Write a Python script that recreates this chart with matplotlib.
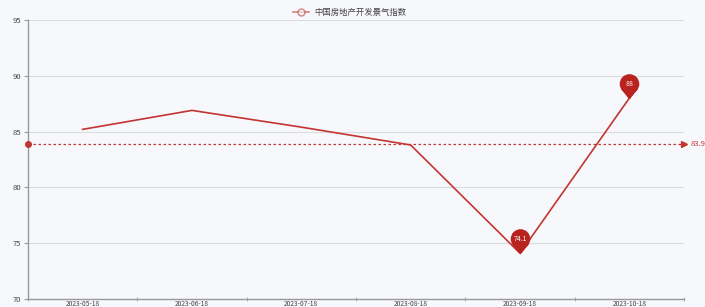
import matplotlib
matplotlib.use("Agg")
import matplotlib.pyplot as plt
import numpy as np
from matplotlib.path import Path

plt.rcParams['font.family'] = ['Noto Sans CJK SC', 'DejaVu Sans']

dates = ["2023-05-18", "2023-06-18", "2023-07-18", "2023-08-18", "2023-09-18", "2023-10-18"]
values = [85.2, 86.9, 85.4, 83.8, 74.1, 88]
series_name = "中国房地产开发景气指数"
y_ticks = [70, 75, 80, 85, 90, 95]

BG = "#f7f8fc"
RED = "#c23531"

fig = plt.figure(figsize=(7.05, 3.07), dpi=100, facecolor=BG)
ax = fig.add_axes([28/705, 8/307, (684-28)/705, 279/307])
ax.set_facecolor(BG)

x = np.arange(len(dates))
ax.plot(x, values, color=RED, lw=1.2, zorder=3)

ax.set_xlim(-0.5, len(dates) - 0.5)
ax.set_ylim(y_ticks[0], y_ticks[-1])
ax.set_yticks(y_ticks)
ax.set_yticklabels([str(v) for v in y_ticks], fontsize=5.5, color="#444")
ax.yaxis.grid(True, color="#dcdcdc", lw=0.8)
ax.set_axisbelow(True)

ax.set_xticks(x)
ax.set_xticklabels(dates, fontsize=4.8, color="#444")
ax.set_xticks(np.arange(-0.5, len(dates)), minor=True)
ax.tick_params(axis='x', which='major', length=0, pad=0.8)
ax.tick_params(axis='x', which='minor', length=3, color="#999", direction='inout')
ax.tick_params(axis='y', length=3, color="#999", pad=2)

for s in ['top', 'right']:
    ax.spines[s].set_visible(False)
for s in ['left', 'bottom']:
    ax.spines[s].set_color("#999")
    ax.spines[s].set_linewidth(1.0)

# average line
avg = float(np.mean(values))
ax.plot([-0.5, len(dates) - 0.5], [avg, avg], color=RED, lw=0.9, ls=(0, (2, 2)), zorder=2)
ax.plot([-0.5], [avg], marker='o', ms=4, color=RED, clip_on=False, zorder=4)
ax.plot([len(dates) - 0.5], [avg], marker='>', ms=4, color=RED, clip_on=False, zorder=4)
ax.annotate(f"{avg:.1f}", (len(dates) - 0.5, avg), xytext=(5, 0), textcoords='offset points',
            fontsize=5.5, color=RED, va='center', ha='left', annotation_clip=False)

# pin marker
r, c = 1.0, 1.6
a = np.arcsin(r / c)
circ = Path.circle((0, c), r)
tri = Path([(0, 0), (r*np.cos(a), c - r*np.sin(a)), (-r*np.cos(a), c - r*np.sin(a)), (0, 0)],
           [Path.MOVETO, Path.LINETO, Path.LINETO, Path.CLOSEPOLY])
pin = Path.make_compound_path(circ, tri)
ms = 34
imax = int(np.argmax(values))
imin = int(np.argmin(values))
for i in (imax, imin):
    ax.plot([x[i]], [values[i]], marker=pin, ms=ms, color="#b8231f", mec="#b8231f", zorder=5, clip_on=False)
    v = values[i]
    lab = f"{v:g}"
    ax.annotate(lab, (x[i], v), xytext=(0, c / (c + r) * 0.5 * ms), textcoords='offset points',
                ha='center', va='center', fontsize=5, color="white", zorder=6)

# legend
fig.lines.append(plt.Line2D([293/705, 309/705], [1 - 12/307, 1 - 12/307], transform=fig.transFigure,
                            color=RED, lw=1.2, alpha=0.6))
fig.lines.append(plt.Line2D([301/705], [1 - 12/307], transform=fig.transFigure, marker='o',
                            ms=5, mfc=BG, mec=RED, mew=1.0, alpha=0.6))
fig.text(314/705, 1 - 12/307, series_name, fontsize=6, color="#444", va='center', ha='left')

fig.savefig("out.png", dpi=100, facecolor=BG)
